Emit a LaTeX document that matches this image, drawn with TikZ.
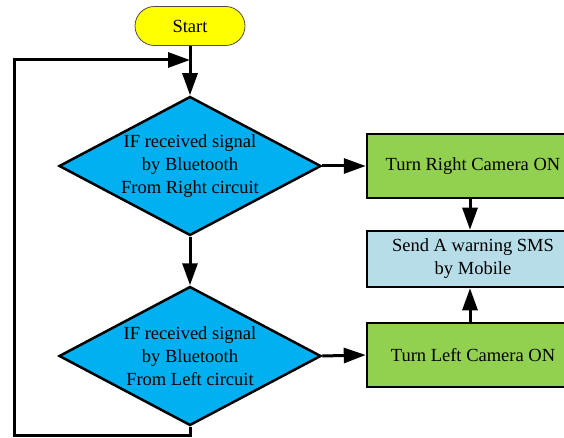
\documentclass[tikz,border=0pt]{standalone}
\usepackage{fontspec}
\setmainfont{Liberation Serif}
\usepackage{tikz}
\usetikzlibrary{shapes.geometric,arrows.meta,positioning}
\definecolor{startyellow}{HTML}{FFFF00}
\definecolor{ifblue}{HTML}{00B0F0}
\definecolor{camgreen}{HTML}{92D050}
\definecolor{smsblue}{HTML}{B7DDE8}
\tikzset{
  startbox/.style={rectangle, rounded corners=19.5pt, draw=black!70, line width=0.8pt, fill=startyellow, minimum width=110pt, minimum height=39pt},
  decision/.style={diamond, draw, line width=2.5pt, fill=ifblue, aspect=1.885, minimum width=262pt, minimum height=139pt, inner sep=0pt, align=center},
  action/.style={rectangle, draw, line width=2.5pt, fill=camgreen, minimum width=212pt, minimum height=64pt, inner sep=0pt, align=center},
  flow/.style={line width=3pt, -{Triangle[length=22pt,width=15pt]}}
}
\begin{document}
\begin{tikzpicture}[x=1pt,y=-1pt,font=\fontsize{18.5}{23}\selectfont]
    \useasboundingbox (0,0) rectangle (564,438);

    \node[startbox] (start) at (190,26) {Start};
    \node[decision] (ifright) at (190,166) {IF received signal\\by Bluetooth\\From Right circuit};
    \node[decision] (ifleft) at (190,356) {IF received signal\\by Bluetooth\\From Left circuit};

    \node[action] (camright) at (473,166) {Turn Right Camera ON};
    \node[action, fill=smsblue, minimum height=56pt] (sms) at (473,259) {Send A warning SMS\\by Mobile};
    \node[action] (camleft) at (473,355) {Turn Left Camera ON};

    \coordinate (loopbl) at (14,435);
    \coordinate (looptl) at (14,60);
    \coordinate (merge) at (190,60);

    \draw[flow] (start.south) -- (ifright.north);
    \draw[flow] (ifright.south) -- (ifleft.north);
    \draw[flow] (ifright.east) -- (camright.west);
    \draw[flow] (ifleft.east) -- (camleft.west);
    \draw[flow] ([xshift=-3pt]camright.south) -- ([xshift=-3pt]sms.north);
    \draw[flow] ([xshift=-3pt]camleft.north) -- ([xshift=-3pt]sms.south);
    \draw[flow] (ifleft.south) |- (loopbl) -- (looptl) -- (merge);
    %\draw[flow] (ifleft.south) -- ++(0,10) -| (looptl) -- (merge);
\end{tikzpicture}
\end{document}
